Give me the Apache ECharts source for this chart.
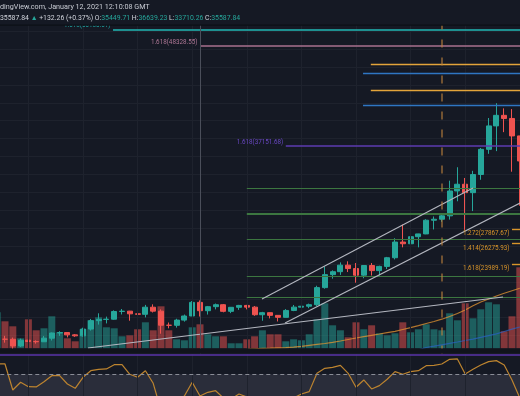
<!DOCTYPE html>
<html><head><meta charset="utf-8">
<script src="https://cdn.jsdelivr.net/npm/echarts@6/dist/echarts.min.js"></script>
<style>html,body{margin:0;padding:0;background:#151924;overflow:hidden}#c{width:520px;height:396px}</style>
</head><body><div id="c"></div><script>
// ---- data (daily BTC candles, Nov 5 2020 - Jan 11 2021) ----
const dates = ['Nov 5','Nov 6','Nov 7','Nov 8','Nov 9','Nov 10','Nov 11','Nov 12','Nov 13','Nov 14','Nov 15','Nov 16','Nov 17','Nov 18','Nov 19','Nov 20','Nov 21','Nov 22','Nov 23','Nov 24','Nov 25','Nov 26','Nov 27','Nov 28','Nov 29','Nov 30',
'Dec 1','Dec 2','Dec 3','Dec 4','Dec 5','Dec 6','Dec 7','Dec 8','Dec 9','Dec 10','Dec 11','Dec 12','Dec 13','Dec 14','Dec 15','Dec 16','Dec 17','Dec 18','Dec 19','Dec 20','Dec 21','Dec 22','Dec 23','Dec 24','Dec 25','Dec 26','Dec 27','Dec 28','Dec 29','Dec 30','Dec 31',
'Jan 1','Jan 2','Jan 3','Jan 4','Jan 5','Jan 6','Jan 7','Jan 8','Jan 9','Jan 10','Jan 11'];
const openP = [14150,15590,15580,14830,15480,15330,15300,15700,16280,16330,16070,15960,16720,17660,17800,17820,18680,18720,18420,18370,19160,18720,17150,17140,17720,18180,
19700,18770,19220,19440,18700,19150,19360,19170,18320,18550,18250,18030,18800,19170,19270,19440,21350,22800,23130,23860,23480,22740,23820,23250,23720,24690,26440,26250,27040,27350,28880,
28990,29370,32150,32900,31960,33990,36800,39420,40600,40250,38300];
const closeP = [15590,15580,14830,15480,15330,15300,15700,16280,16330,16070,15960,16720,17660,17800,17820,18680,18720,18420,18370,19160,18720,17150,17140,17720,18180,19700,
18770,19220,19440,18700,19150,19360,19170,18320,18550,18250,18030,18800,19170,19270,19440,21350,22800,23130,23860,23480,22740,23820,23250,23720,24690,26440,26250,27040,27350,28880,28990,
29370,32150,32900,31960,33990,36800,39420,40600,40250,38300,35500];
const lowP = [14100,15200,14350,14710,15160,15090,15280,15440,15960,15790,15850,15880,16550,17220,17350,17760,18350,17650,18000,18020,18570,16200,16800,16880,17550,18180,
18120,18340,18920,18590,18500,18860,18920,18200,17650,17910,17570,18020,18720,19000,19050,19300,21230,22350,22770,23090,21900,22400,22700,22700,23430,24500,25850,26100,25850,27320,27850,
28700,28950,31000,27800,29900,33400,36300,36600,38720,34300,30500];
const highP = [15750,15960,15770,15650,15840,15460,15950,16330,16480,16330,16150,16870,17850,18480,18110,18810,18960,18750,18770,19420,19480,18920,17450,17870,18340,19850,
19920,19300,19570,19520,19170,19420,19420,19290,18640,18570,18280,18950,19410,19350,19560,21560,23700,23280,24170,24290,24100,23830,24100,23800,24780,26870,28400,27400,27370,28990,29300,
29600,33300,34800,33600,34400,36950,40300,41950,41380,41300,38300];
const volume = [36,27,22,10,29,18,20,32,16,10,7,19,28,31,21,20,12,13,19,26,18,42,18,9,8,21,24,14,12,12,5,5,9,12,18,14,14,7,9,8,14,29,45,23,18,11,26,19,23,15,13,15,26,16,19,24,19,18,35,28,45,30,39,46,44,17,32,81];
const maOrange = [null,null,null,null,null,null,null,null,null,null,null,null,null,null,null,null,null,null,null,null,null,null,null,null,null,null,null,null,null,null,null,null,
14480,14520,14559,14581,14615,14648,14693,14794,14906,15017,15107,15241,15386,15554,15721,15877,16023,16168,16324,16459,16671,16883,17107,17341,17565,17822,18123,18459,18849,19330,19743,20079,20414,20715,20995,21274];
const maBlue = [null,null,null,null,null,null,null,null,null,null,null,null,null,null,null,null,null,null,null,null,null,null,null,null,null,null,null,null,null,null,null,null,
null,null,null,null,null,null,null,null,null,null,null,null,null,null,null,null,null,null,null,null,null,14300,14403,14660,14805,14961,15118,15274,15442,15587,15788,15989,16190,16447,16704,16950];
const osc = [85.5,85.5,46.5,58,51.4,51,58.9,67.9,67.9,55.5,49,65.5,75.4,77.5,78,84.4,84.4,70,65.5,75.4,56.5,16,9,24,37.5,58,37.5,43,45.4,34.5,33,40.5,36,28.5,25.5,24,22.5,28.5,34.5,40.5,44,71.5,79,80.5,83.5,71.5,50.5,61.5,48,53,62.5,74,70,74,75.4,83,83.5,85.5,92.5,93,70.5,77.5,84,89,90.5,84,61.5,34.5];
// drawings (bar index from Nov 6 = 0, price)
const fibLabels = ['1.618(50180.61)','1.618(48328.55)','1.618(37151.68)'];
const fibPrices = [50180.61, 48328.55, 37151.68];
const fibStart = [13.85, 25, 36];
const extLabels = ['1.272(27867.67)','1.414(26275.93)','1.618(23989.19)'];
const extPrices = [27867.67, 26275.93, 23989.19];
const extStart = 65;
const greenLevels = [32447, 29654, 26749, 22570, 20224];
const greenStart = 31;
const amberLevels = [46257, 43352];
const amberStart = 46.9;
const blueLevels = [45296, 41754];
const blueStart = 45.9;
const trendLines = [[[32.95,20078],[60,32481]], [[35.9,17397],[66.03,30805]], [[10.64,14604],[63.85,20302]]];
const weekStarts = [3,10,17,24,31,38,45,52,59,66];
const dashedBar = 56, crossBar = 25;

// ---- chart ----
const BG = '#151924', UP = '#26a69a', DN = '#ef5350';
const GRID = {left: -6.7, width: 530.4, outerBoundsMode: 'none', containLabel: false};
const chart = echarts.init(document.getElementById('c'));
const candleData = dates.map((d,i)=>[openP[i], closeP[i], lowP[i], highP[i]]);
const volData = volume.map((v,i)=>({value:v, itemStyle:{color: closeP[i]>=openP[i] ? 'rgba(38,166,154,0.5)' : 'rgba(239,83,80,0.5)'}}));
const END = 66.5;
const draw = [];
const hl = (start, price, color, width) => [{coord:[start, price], lineStyle:{color, width, type:'solid'}}, {coord:[END, price]}];
fibPrices.forEach((p,i)=>draw.push(hl(fibStart[i], p, ['#22b8b5','#a8718e','#5c3bb0'][i], 1.6)));
amberLevels.forEach(p=>draw.push(hl(amberStart, p, '#e3a43a', 1.4)));
blueLevels.forEach(p=>draw.push(hl(blueStart, p, '#2f76c2', 1.4)));
greenLevels.forEach((p,i)=>draw.push(hl(greenStart, p, '#3c7640', i===1?1.8:1.1)));
extPrices.forEach(p=>draw.push(hl(extStart, p, '#d9952a', 1.4)));
trendLines.forEach(t=>draw.push([{coord:t[0], lineStyle:{color:'#b4b7c0', width:1.1, type:'solid'}}, {coord:t[1]}]));
draw.push({xAxis: dashedBar, lineStyle:{color:'rgba(190,130,60,0.55)', width:2, type:[8,10]}});
draw.push({xAxis: crossBar, lineStyle:{color:'#4a4e5a', width:1, type:'solid'}});

chart.setOption({
  animation: false,
  backgroundColor: BG,
  grid: [
    Object.assign({top: 13.3, height: 340.1}, GRID),
    Object.assign({top: 25, height: 323.3}, GRID),
    Object.assign({top: 352.3, height: 44}, GRID)
  ],
  xAxis: [
    {type:'category', gridIndex:0, data: dates, show:false},
    {type:'value', gridIndex:0, min:-1.5, max:END, show:false},
    {type:'category', gridIndex:1, data: dates, show:false},
    {type:'category', gridIndex:2, data: dates, show:false}
  ],
  yAxis: [
    {type:'value', gridIndex:0, min:14000, max:52000, interval:2000, axisLabel:{show:false}, axisLine:{show:false}, axisTick:{show:false},
     splitLine:{show:true, lineStyle:{color:'#1e222d', width:1}}},
    {type:'value', gridIndex:1, min:0, max:323.3, show:false},
    {type:'value', gridIndex:2, min:37, max:103, show:false}
  ],
  series: [
    {type:'line', xAxisIndex:1, yAxisIndex:0, data:[], z:0, silent:true,
     markLine:{silent:true, symbol:['none','none'], label:{show:false}, lineStyle:{color:'#1e222d', width:1, type:'solid'},
       data: weekStarts.map(k=>({xAxis:k}))}},
    {type:'bar', xAxisIndex:2, yAxisIndex:1, data: volData, barWidth:7, z:1, silent:true},
    {type:'line', xAxisIndex:0, yAxisIndex:0, data: maOrange, symbol:'none', z:3, lineStyle:{color:'rgba(230,150,50,0.75)', width:1.2}},
    {type:'line', xAxisIndex:0, yAxisIndex:0, data: maBlue, symbol:'none', z:3, lineStyle:{color:'rgba(41,98,200,0.7)', width:1.2}},
    {type:'candlestick', xAxisIndex:0, yAxisIndex:0, data: candleData, barWidth:5.6, z:4,
     itemStyle:{color:UP, color0:DN, borderColor:UP, borderColor0:DN, borderWidth:1}},
    {type:'line', xAxisIndex:1, yAxisIndex:0, data:[], z:5, silent:true,
     markLine:{silent:true, symbol:['none','none'], label:{show:false}, data: draw}},
    {type:'line', xAxisIndex:3, yAxisIndex:2, data: osc, symbol:'none', z:3, lineStyle:{color:'#bd842f', width:1.2},
     markArea:{silent:true, itemStyle:{color:'#2a2d3a'}, data:[[{yAxis:37},{yAxis:70}]]},
     markLine:{silent:true, symbol:['none','none'], label:{show:false},
       data: weekStarts.map(k=>({xAxis:k+1, lineStyle:{color:'#1e222d', width:1, type:'solid'}})).concat([
         {yAxis:70, lineStyle:{color:'#8a8d97', width:1, type:[4,3]}},
         {yAxis:100, lineStyle:{color:'#5a33a8', width:1.6, type:'solid'}}
       ])}}
  ]
});

// labels positioned through the chart's own scales
const px = (x,y)=>chart.convertToPixel({seriesIndex:5}, [x,y]);
const FONT = '6.3px Roboto, sans-serif';
const gfx = [];
fibPrices.forEach((p,i)=>{
  const pt = px(fibStart[i], p);
  gfx.push({type:'text', z:50, style:{text: fibLabels[i], x: pt[0]-2.5, y: pt[1]-1, align:'right', verticalAlign:'bottom',
    fill: ['#22b8b5','#b07896','#6a48c4'][i], font: FONT}});
});
extPrices.forEach((p,i)=>{
  const pt = px(extStart, p);
  gfx.push({type:'text', z:50, style:{text: extLabels[i], x: pt[0]-2.5, y: pt[1]+1.5, align:'right', verticalAlign:'top',
    fill: '#d9952a', font: FONT}});
});
gfx.push({type:'rect', z:100, shape:{x:0,y:0,width:520,height:25}, style:{fill:BG}});
gfx.push({type:'rect', z:100, shape:{x:0,y:24.5,width:520,height:1.2}, style:{fill:'#0d1016'}});
gfx.push({type:'rect', z:100, shape:{x:0,y:348.5,width:520,height:5}, style:{fill:'#11141c'}});
gfx.push({type:'text', z:101, style:{text:'dingView.com, January 12, 2021 12:10:08 GMT', x:0, y:7, verticalAlign:'middle', fill:'#c9ccd4', font:'7.2px Roboto, sans-serif'}});
gfx.push({type:'text', z:101, style:{
  text:'{w|35587.84 }{g|▲ }{w|+132.26 (+0.37%) O:}{g|35449.71 }{w|H:}{g|36639.23 }{w|L:}{g|33710.26 }{w|C:}{g|35587.84}',
  x:0, y:18, verticalAlign:'middle', font:'6.9px Roboto, sans-serif',
  rich:{w:{fill:'#d1d4dc', font:'6.9px Roboto, sans-serif'}, g:{fill:'#26a69a', font:'6.9px Roboto, sans-serif'}}}});
chart.setOption({graphic: gfx});
</script></body></html>
